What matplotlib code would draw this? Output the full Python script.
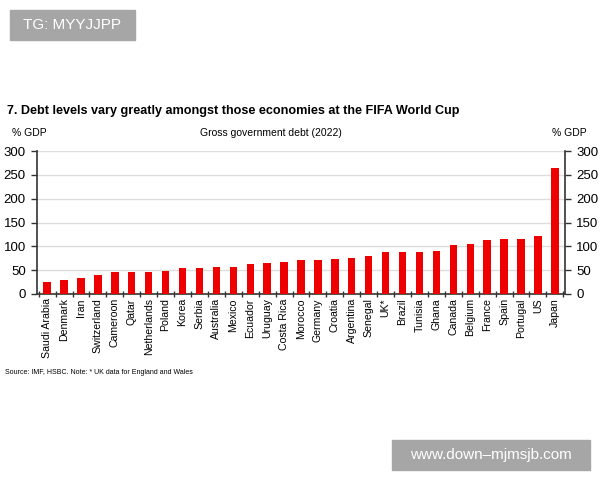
import matplotlib
matplotlib.use("Agg")
import matplotlib.pyplot as plt
import numpy as np

countries = ["Saudi Arabia", "Denmark", "Iran", "Switzerland", "Cameroon", "Qatar",
             "Netherlands", "Poland", "Korea", "Serbia", "Australia", "Mexico",
             "Ecuador", "Uruguay", "Costa Rica", "Morocco", "Germany", "Croatia",
             "Argentina", "Senegal", "UK*", "Brazil", "Tunisia", "Ghana", "Canada",
             "Belgium", "France", "Spain", "Portugal", "US", "Japan"]
debt = [26, 30, 33, 40, 47, 47, 47, 49, 54, 54, 57, 57, 62, 64, 67, 71, 71, 74,
        76, 79, 88, 88, 88, 91, 102, 105, 113, 115, 115, 121, 265]
yticks = [0, 50, 100, 150, 200, 250, 300]

plt.rcParams['font.family'] = ['Liberation Sans', 'DejaVu Sans']

fig = plt.figure(figsize=(6, 4.8), dpi=100)
ax = fig.add_axes([37/600, 1-294/480, (565-37)/600, (294-151)/480])

x = np.arange(len(countries))
ax.bar(x, debt, width=0.44, color="#ee0000", zorder=3)
ax.set_xlim(-0.6, len(countries) - 0.4)
ax.set_ylim(0, 300)
ax.set_yticks(yticks)
ax.yaxis.grid(True, color="#dddddd", linewidth=1, zorder=0)
ax.set_axisbelow(True)

ax.set_xticks(x)
ax.set_xticklabels(countries, rotation=90, fontsize=7.6)
ax.tick_params(axis='x', length=0, pad=3)
ax.set_xticks(np.arange(len(countries) + 1) - 0.5, minor=True)
ax.tick_params(axis='x', which='minor', length=4, direction='inout', color="#333333", width=1)

ax.tick_params(axis='y', labelsize=9.5, length=4, color="#333333", width=1, labelleft=True,
               left=True, right=True, labelright=True, pad=4)
ax.spines['top'].set_visible(False)
for s in ['left', 'right', 'bottom']:
    ax.spines[s].set_color("#333333")
    ax.spines[s].set_linewidth(1.2)

# Texts
fig.text(7/600, 1-111/480, "7. Debt levels vary greatly amongst those economies at the FIFA World Cup",
         fontsize=9.1, fontweight='bold', va='center', ha='left')
fig.text(12/600, 1-133/480, "% GDP", fontsize=7.5, va='center', ha='left')
fig.text(587/600, 1-133/480, "% GDP", fontsize=7.5, va='center', ha='right')
fig.text(271/600, 1-133/480, "Gross government debt (2022)", fontsize=7.5, va='center', ha='center')
fig.text(5/600, 1-372/480, "Source: IMF, HSBC. Note: * UK data for England and Wales",
         fontsize=5, va='center', ha='left')

# Watermark boxes
fig.patches.append(matplotlib.patches.Rectangle((10/600, 1-40/480), 125/600, 30/480,
                   transform=fig.transFigure, color="#a6a6a6", zorder=5))
fig.text(72/600, 1-25/480, "TG: MYYJJPP", fontsize=11, color="white", va='center', ha='center',
         zorder=6)
fig.patches.append(matplotlib.patches.Rectangle((392/600, 1-470/480), 198/600, 30/480,
                   transform=fig.transFigure, color="#a6a6a6", zorder=5))
fig.text(491/600, 1-455/480, "www.down\u2013mjmsjb.com", fontsize=11, color="white", va='center', ha='center',
         zorder=6)

fig.savefig("out.png", dpi=100)
